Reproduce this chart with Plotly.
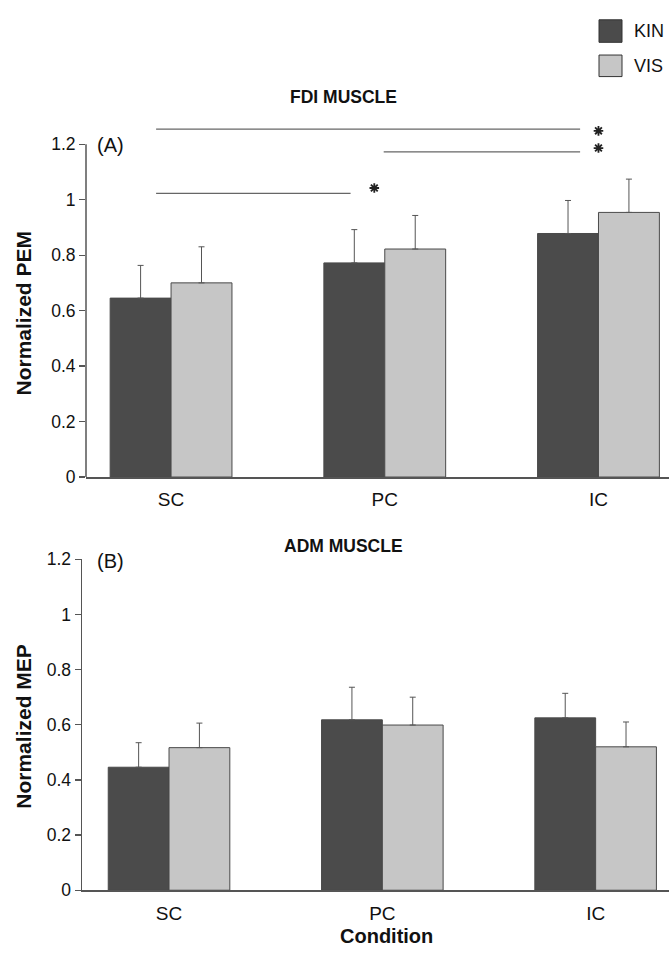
import plotly.graph_objects as go

W, H = 669, 958

conditions = ["SC", "PC", "IC"]
series_names = ["KIN", "VIS"]

# Panel A: FDI muscle (Normalized PEM)
fdi_kin = [0.645, 0.772, 0.878]
fdi_kin_err = [0.118, 0.120, 0.119]
fdi_vis = [0.700, 0.822, 0.954]
fdi_vis_err = [0.130, 0.121, 0.120]

# Panel B: ADM muscle (Normalized MEP)
adm_kin = [0.446, 0.618, 0.625]
adm_kin_err = [0.089, 0.118, 0.089]
adm_vis = [0.517, 0.599, 0.520]
adm_vis_err = [0.089, 0.101, 0.090]

y_ticks = [0, 0.2, 0.4, 0.6, 0.8, 1, 1.2]
y_tick_labels = ["0", "0.2", "0.4", "0.6", "0.8", "1", "1.2"]

# significance brackets (panel A): start, end (category index), level
sig_start = [-0.07, 0.995, -0.07]
sig_end = [1.914, 1.914, 0.84]
sig_level = [1.254, 1.172, 1.0226]
star_x = [2.0, 2.0, 0.951]
star_y = [1.248, 1.186, 1.042]

KIN_COLOR = "#4b4b4b"
VIS_COLOR = "#c6c6c6"
EDGE = "#4a4a4a"
AXIS = "#555555"
FONT = "Liberation Sans, Arial, sans-serif"

fig = go.Figure()

def add_bars(vals, errs, color, name, xa, ya):
    fig.add_trace(go.Bar(
        x=list(range(len(conditions))), y=vals, name=name,
        marker=dict(color=color, line=dict(color=EDGE, width=1)),
        error_y=dict(type="data", symmetric=False, array=errs,
                     arrayminus=[0] * len(errs), color=AXIS,
                     thickness=1, width=3),
        xaxis=xa, yaxis=ya, showlegend=False))

add_bars(fdi_kin, fdi_kin_err, KIN_COLOR, "KIN", "x", "y")
add_bars(fdi_vis, fdi_vis_err, VIS_COLOR, "VIS", "x", "y")
add_bars(adm_kin, adm_kin_err, KIN_COLOR, "KIN", "x2", "y2")
add_bars(adm_vis, adm_vis_err, VIS_COLOR, "VIS", "x2", "y2")

for s, e, lv in zip(sig_start, sig_end, sig_level):
    fig.add_trace(go.Scatter(x=[s, e], y=[lv, lv], mode="lines",
                             line=dict(color="#666666", width=1.2),
                             xaxis="x", yaxis="y", showlegend=False,
                             hoverinfo="skip"))
fig.add_trace(go.Scatter(x=star_x, y=star_y, mode="markers",
                         marker=dict(symbol="asterisk", size=8,
                                     line=dict(color="#222222", width=1.8)),
                         xaxis="x", yaxis="y", showlegend=False,
                         cliponaxis=False, hoverinfo="skip"))

def px_x(p):
    return p / W

def px_y(p):
    return 1 - p / H

# y axis line of panel A drawn only from 0 to 1.2
fig.add_shape(type="line", xref="x domain", yref="y", x0=0, x1=0, y0=0, y1=1.2,
              line=dict(color=AXIS, width=1.5))

xaxis_common = dict(tickmode="array", tickvals=[0, 1, 2], ticktext=conditions,
                    showline=True, linecolor=AXIS, linewidth=1.5, ticks="",
                    showgrid=False, zeroline=False, ticklabelstandoff=5,
                    tickfont=dict(family=FONT, size=19, color="#111111"),
                    fixedrange=True)
yaxis_common = dict(tickmode="array", tickvals=y_ticks, ticktext=y_tick_labels,
                    ticks="outside", ticklen=6, tickcolor=AXIS, tickwidth=1.2,
                    showgrid=False, zeroline=False,
                    tickfont=dict(family=FONT, size=17.5, color="#111111"))

fig.update_layout(
    width=W, height=H,
    margin=dict(l=0, r=0, t=0, b=0),
    paper_bgcolor="white", plot_bgcolor="white",
    barmode="group", bargap=0.43, bargroupgap=0,
    hovermode=False,
    xaxis=dict(domain=[px_x(86), 1], range=[-0.398, 2.33], anchor="y", **xaxis_common),
    yaxis=dict(domain=[px_y(477), px_y(108.7)], range=[0, 1.3], anchor="x",
               showline=False, **yaxis_common),
    xaxis2=dict(domain=[px_x(82), 1], range=[-0.408, 2.344], anchor="y2", **xaxis_common),
    yaxis2=dict(domain=[px_y(899), px_y(561)], range=[0, 1.2], anchor="x2",
                showline=True, linecolor=AXIS, linewidth=1.5, **yaxis_common),
    font=dict(family=FONT, color="#111111"),
)

def ann(text, x, y, size, bold=False, angle=0, xanchor="center", yanchor="middle"):
    fig.add_annotation(text=("<b>%s</b>" % text) if bold else text,
                       x=px_x(x), y=px_y(y), xref="paper", yref="paper",
                       showarrow=False, textangle=angle, xanchor=xanchor,
                       yanchor=yanchor,
                       font=dict(family=FONT, size=size, color="#111111"))

ann("FDI MUSCLE", 343, 89, 17.5, bold=True)
ann("ADM MUSCLE", 343, 547, 17.5, bold=True)
ann("(A)", 95, 138, 20, xanchor="left")
ann("(B)", 95, 563, 20, xanchor="left")
ann("Normalized PEM", 24, 310, 21, bold=True, angle=-90)
ann("Normalized MEP", 24, 732, 21, bold=True, angle=-90)
ann("Condition", 386, 946, 20, bold=True)

# legend
for (y0, y1, col, name) in [(10, 33, KIN_COLOR, series_names[0]),
                            (46, 68, VIS_COLOR, series_names[1])]:
    fig.add_shape(type="rect", xref="paper", yref="paper",
                  x0=px_x(599), x1=px_x(622), y0=px_y(y1), y1=px_y(y0),
                  fillcolor=col, line=dict(color="#333333", width=1))
    ann(name, 632, (y0 + y1) / 2, 18, xanchor="left")

fig.write_html(
    "out.html",
    config={"displayModeBar": False, "staticPlot": True},
    post_script="document.body.style.margin='0';"
                "document.documentElement.style.overflow='hidden';"
                "document.body.style.overflow='hidden';",
)
